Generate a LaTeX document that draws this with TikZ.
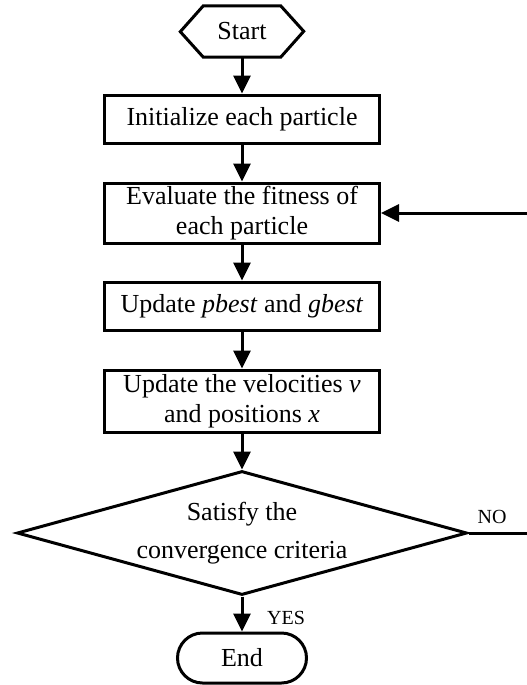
\documentclass[tikz,border=0pt]{standalone}
\usepackage{fontspec}
\setmainfont{Liberation Serif}
\usetikzlibrary{arrows.meta,shapes.geometric,shapes.misc}
\begin{document}
\begin{tikzpicture}[x=1pt,y=-1pt,
  lw/.style={line width=3pt},
  box/.style={draw,lw,rectangle,minimum width=275pt,inner sep=0pt,align=center,font=\fontsize{26}{30}\selectfont},
  arr/.style={lw,-{Triangle[length=18pt,width=17pt]}},
  lbl/.style={font=\fontsize{20}{24}\selectfont,inner sep=0pt}
]
\useasboundingbox (0,0) rectangle (527,685);
% Start hexagon
\node[rectangle,minimum width=77pt,minimum height=51pt,inner sep=0pt,font=\fontsize{26}{30}\selectfont] (start) at (242,31.5) {Start};
\draw[lw,line join=miter] (start.north west) -- (start.north east) -- ++(23,25.5) -- (start.south east) -- (start.south west) -- ++(-23,-25.5) -- cycle;
% Boxes
\node[box,minimum height=48pt] (init) at (242,119) {Initialize each particle};
\node[box,minimum height=60pt] (eval) at (242,213) {Evaluate the fitness of\\each particle};
\node[box,minimum height=48pt] (pb) at (242,306) {Update \textit{pbest} and \textit{gbest}};
\node[box,minimum height=62pt] (vel) at (242,401) {Update the velocities \textit{v}\\and positions \textit{x}};
\node[draw,lw,diamond,aspect=3.63,minimum width=450pt,minimum height=124pt,inner sep=0pt,align=center,font=\fontsize{26}{38}\selectfont] (dec) at (242,533) {Satisfy the\\convergence criteria};
\node[draw,lw,rounded rectangle,minimum width=129pt,minimum height=50pt,inner sep=0pt,font=\fontsize{26}{30}\selectfont] (end) at (242,658) {End};
% Connectors
\draw[arr] (start) -- (init);
\draw[arr] (init) -- (eval);
\draw[arr] (eval) -- (pb);
\draw[arr] (pb) -- (vel);
\draw[arr] (vel) -- (dec);
\draw[arr] (dec) -- (end);
\coordinate (fb) at (531,533);
\draw[arr] (dec.east) -- (fb) |- (eval.east);
% Labels
\node[lbl] (no) at (492,517) {NO};
\node[lbl] (yes) at (286,618) {YES};
\end{tikzpicture}
\end{document}
